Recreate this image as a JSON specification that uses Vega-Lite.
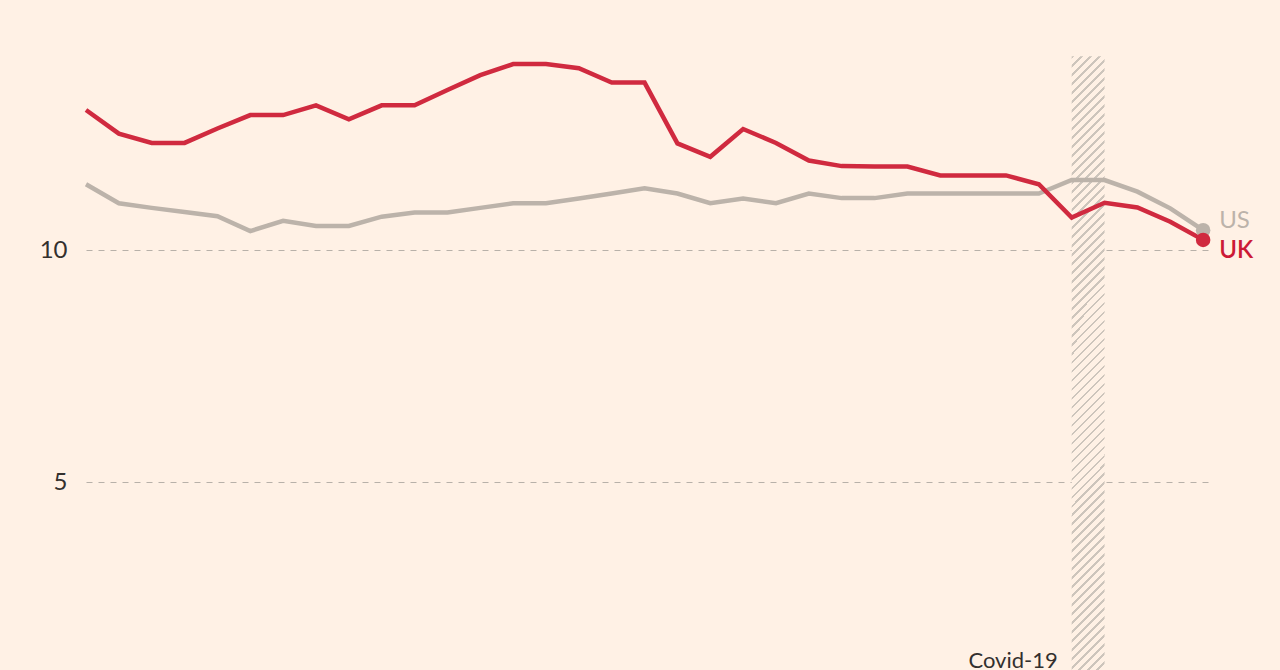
{
  "$schema": "https://vega.github.io/schema/vega-lite/v6.json",
  "width": 1126,
  "height": 670,
  "autosize": {"type": "none"},
  "padding": {"left": 86, "top": 0, "right": 68, "bottom": 0},
  "background": "#fff1e5",
  "config": {
    "view": {"stroke": null},
    "font": "Lato"
  },
  "datasets": {
    "series": [
      {"year": 1990, "country": "UK", "value": 13.02}, {"year": 1990, "country": "US", "value": 11.42},
      {"year": 1991, "country": "UK", "value": 12.51}, {"year": 1991, "country": "US", "value": 11.01},
      {"year": 1992, "country": "UK", "value": 12.31}, {"year": 1992, "country": "US", "value": 10.91},
      {"year": 1993, "country": "UK", "value": 12.31}, {"year": 1993, "country": "US", "value": 10.82},
      {"year": 1994, "country": "UK", "value": 12.62}, {"year": 1994, "country": "US", "value": 10.73},
      {"year": 1995, "country": "UK", "value": 12.91}, {"year": 1995, "country": "US", "value": 10.41},
      {"year": 1996, "country": "UK", "value": 12.91}, {"year": 1996, "country": "US", "value": 10.63},
      {"year": 1997, "country": "UK", "value": 13.12}, {"year": 1997, "country": "US", "value": 10.52},
      {"year": 1998, "country": "UK", "value": 12.82}, {"year": 1998, "country": "US", "value": 10.52},
      {"year": 1999, "country": "UK", "value": 13.12}, {"year": 1999, "country": "US", "value": 10.72},
      {"year": 2000, "country": "UK", "value": 13.12}, {"year": 2000, "country": "US", "value": 10.81},
      {"year": 2001, "country": "UK", "value": 13.45}, {"year": 2001, "country": "US", "value": 10.81},
      {"year": 2002, "country": "UK", "value": 13.77}, {"year": 2002, "country": "US", "value": 10.91},
      {"year": 2003, "country": "UK", "value": 14.01}, {"year": 2003, "country": "US", "value": 11.01},
      {"year": 2004, "country": "UK", "value": 14.01}, {"year": 2004, "country": "US", "value": 11.01},
      {"year": 2005, "country": "UK", "value": 13.92}, {"year": 2005, "country": "US", "value": 11.11},
      {"year": 2006, "country": "UK", "value": 13.61}, {"year": 2006, "country": "US", "value": 11.22},
      {"year": 2007, "country": "UK", "value": 13.61}, {"year": 2007, "country": "US", "value": 11.33},
      {"year": 2008, "country": "UK", "value": 12.30}, {"year": 2008, "country": "US", "value": 11.22},
      {"year": 2009, "country": "UK", "value": 12.01}, {"year": 2009, "country": "US", "value": 11.01},
      {"year": 2010, "country": "UK", "value": 12.61}, {"year": 2010, "country": "US", "value": 11.11},
      {"year": 2011, "country": "UK", "value": 12.31}, {"year": 2011, "country": "US", "value": 11.01},
      {"year": 2012, "country": "UK", "value": 11.93}, {"year": 2012, "country": "US", "value": 11.22},
      {"year": 2013, "country": "UK", "value": 11.81}, {"year": 2013, "country": "US", "value": 11.12},
      {"year": 2014, "country": "UK", "value": 11.80}, {"year": 2014, "country": "US", "value": 11.12},
      {"year": 2015, "country": "UK", "value": 11.80}, {"year": 2015, "country": "US", "value": 11.22},
      {"year": 2016, "country": "UK", "value": 11.61}, {"year": 2016, "country": "US", "value": 11.22},
      {"year": 2017, "country": "UK", "value": 11.61}, {"year": 2017, "country": "US", "value": 11.22},
      {"year": 2018, "country": "UK", "value": 11.61}, {"year": 2018, "country": "US", "value": 11.22},
      {"year": 2019, "country": "UK", "value": 11.42}, {"year": 2019, "country": "US", "value": 11.22},
      {"year": 2020, "country": "UK", "value": 10.70}, {"year": 2020, "country": "US", "value": 11.51},
      {"year": 2021, "country": "UK", "value": 11.02}, {"year": 2021, "country": "US", "value": 11.51},
      {"year": 2022, "country": "UK", "value": 10.92}, {"year": 2022, "country": "US", "value": 11.26},
      {"year": 2023, "country": "UK", "value": 10.61}, {"year": 2023, "country": "US", "value": 10.90},
      {"year": 2024, "country": "UK", "value": 10.22}, {"year": 2024, "country": "US", "value": 10.43}
    ],
    "covid": [
      {"start": 2020, "end": 2021, "top": 14.18, "bottom": 0.95, "label": "Covid-19"}
    ]
  },
  "layer": [
    {
      "data": {"name": "covid"},
      "mark": {
        "type": "rect",
        "fill": {
          "gradient": "linear",
          "x1": 0, "y1": 0, "x2": 0.0564, "y2": 1.0507,
          "stops": [
            {"offset": 0, "color": "#cdc5bc"}, {"offset": 0.0042, "color": "#cdc5bc"}, {"offset": 0.0042, "color": "#fff1e5"}, {"offset": 0.0139, "color": "#fff1e5"},
            {"offset": 0.0139, "color": "#cdc5bc"}, {"offset": 0.0181, "color": "#cdc5bc"}, {"offset": 0.0181, "color": "#fff1e5"}, {"offset": 0.0278, "color": "#fff1e5"},
            {"offset": 0.0278, "color": "#cdc5bc"}, {"offset": 0.0319, "color": "#cdc5bc"}, {"offset": 0.0319, "color": "#fff1e5"}, {"offset": 0.0417, "color": "#fff1e5"},
            {"offset": 0.0417, "color": "#cdc5bc"}, {"offset": 0.0458, "color": "#cdc5bc"}, {"offset": 0.0458, "color": "#fff1e5"}, {"offset": 0.0556, "color": "#fff1e5"},
            {"offset": 0.0556, "color": "#cdc5bc"}, {"offset": 0.0597, "color": "#cdc5bc"}, {"offset": 0.0597, "color": "#fff1e5"}, {"offset": 0.0694, "color": "#fff1e5"},
            {"offset": 0.0694, "color": "#cdc5bc"}, {"offset": 0.0736, "color": "#cdc5bc"}, {"offset": 0.0736, "color": "#fff1e5"}, {"offset": 0.0833, "color": "#fff1e5"},
            {"offset": 0.0833, "color": "#cdc5bc"}, {"offset": 0.0875, "color": "#cdc5bc"}, {"offset": 0.0875, "color": "#fff1e5"}, {"offset": 0.0972, "color": "#fff1e5"},
            {"offset": 0.0972, "color": "#cdc5bc"}, {"offset": 0.1014, "color": "#cdc5bc"}, {"offset": 0.1014, "color": "#fff1e5"}, {"offset": 0.1111, "color": "#fff1e5"},
            {"offset": 0.1111, "color": "#cdc5bc"}, {"offset": 0.1153, "color": "#cdc5bc"}, {"offset": 0.1153, "color": "#fff1e5"}, {"offset": 0.125, "color": "#fff1e5"},
            {"offset": 0.125, "color": "#cdc5bc"}, {"offset": 0.1292, "color": "#cdc5bc"}, {"offset": 0.1292, "color": "#fff1e5"}, {"offset": 0.1389, "color": "#fff1e5"},
            {"offset": 0.1389, "color": "#cdc5bc"}, {"offset": 0.1431, "color": "#cdc5bc"}, {"offset": 0.1431, "color": "#fff1e5"}, {"offset": 0.1528, "color": "#fff1e5"},
            {"offset": 0.1528, "color": "#cdc5bc"}, {"offset": 0.1569, "color": "#cdc5bc"}, {"offset": 0.1569, "color": "#fff1e5"}, {"offset": 0.1667, "color": "#fff1e5"},
            {"offset": 0.1667, "color": "#cdc5bc"}, {"offset": 0.1708, "color": "#cdc5bc"}, {"offset": 0.1708, "color": "#fff1e5"}, {"offset": 0.1806, "color": "#fff1e5"},
            {"offset": 0.1806, "color": "#cdc5bc"}, {"offset": 0.1847, "color": "#cdc5bc"}, {"offset": 0.1847, "color": "#fff1e5"}, {"offset": 0.1944, "color": "#fff1e5"},
            {"offset": 0.1944, "color": "#cdc5bc"}, {"offset": 0.1986, "color": "#cdc5bc"}, {"offset": 0.1986, "color": "#fff1e5"}, {"offset": 0.2083, "color": "#fff1e5"},
            {"offset": 0.2083, "color": "#cdc5bc"}, {"offset": 0.2125, "color": "#cdc5bc"}, {"offset": 0.2125, "color": "#fff1e5"}, {"offset": 0.2222, "color": "#fff1e5"},
            {"offset": 0.2222, "color": "#cdc5bc"}, {"offset": 0.2264, "color": "#cdc5bc"}, {"offset": 0.2264, "color": "#fff1e5"}, {"offset": 0.2361, "color": "#fff1e5"},
            {"offset": 0.2361, "color": "#cdc5bc"}, {"offset": 0.2403, "color": "#cdc5bc"}, {"offset": 0.2403, "color": "#fff1e5"}, {"offset": 0.25, "color": "#fff1e5"},
            {"offset": 0.25, "color": "#cdc5bc"}, {"offset": 0.2542, "color": "#cdc5bc"}, {"offset": 0.2542, "color": "#fff1e5"}, {"offset": 0.2639, "color": "#fff1e5"},
            {"offset": 0.2639, "color": "#cdc5bc"}, {"offset": 0.2681, "color": "#cdc5bc"}, {"offset": 0.2681, "color": "#fff1e5"}, {"offset": 0.2778, "color": "#fff1e5"},
            {"offset": 0.2778, "color": "#cdc5bc"}, {"offset": 0.2819, "color": "#cdc5bc"}, {"offset": 0.2819, "color": "#fff1e5"}, {"offset": 0.2917, "color": "#fff1e5"},
            {"offset": 0.2917, "color": "#cdc5bc"}, {"offset": 0.2958, "color": "#cdc5bc"}, {"offset": 0.2958, "color": "#fff1e5"}, {"offset": 0.3056, "color": "#fff1e5"},
            {"offset": 0.3056, "color": "#cdc5bc"}, {"offset": 0.3097, "color": "#cdc5bc"}, {"offset": 0.3097, "color": "#fff1e5"}, {"offset": 0.3194, "color": "#fff1e5"},
            {"offset": 0.3194, "color": "#cdc5bc"}, {"offset": 0.3236, "color": "#cdc5bc"}, {"offset": 0.3236, "color": "#fff1e5"}, {"offset": 0.3333, "color": "#fff1e5"},
            {"offset": 0.3333, "color": "#cdc5bc"}, {"offset": 0.3375, "color": "#cdc5bc"}, {"offset": 0.3375, "color": "#fff1e5"}, {"offset": 0.3472, "color": "#fff1e5"},
            {"offset": 0.3472, "color": "#cdc5bc"}, {"offset": 0.3514, "color": "#cdc5bc"}, {"offset": 0.3514, "color": "#fff1e5"}, {"offset": 0.3611, "color": "#fff1e5"},
            {"offset": 0.3611, "color": "#cdc5bc"}, {"offset": 0.3653, "color": "#cdc5bc"}, {"offset": 0.3653, "color": "#fff1e5"}, {"offset": 0.375, "color": "#fff1e5"},
            {"offset": 0.375, "color": "#cdc5bc"}, {"offset": 0.3792, "color": "#cdc5bc"}, {"offset": 0.3792, "color": "#fff1e5"}, {"offset": 0.3889, "color": "#fff1e5"},
            {"offset": 0.3889, "color": "#cdc5bc"}, {"offset": 0.3931, "color": "#cdc5bc"}, {"offset": 0.3931, "color": "#fff1e5"}, {"offset": 0.4028, "color": "#fff1e5"},
            {"offset": 0.4028, "color": "#cdc5bc"}, {"offset": 0.4069, "color": "#cdc5bc"}, {"offset": 0.4069, "color": "#fff1e5"}, {"offset": 0.4167, "color": "#fff1e5"},
            {"offset": 0.4167, "color": "#cdc5bc"}, {"offset": 0.4208, "color": "#cdc5bc"}, {"offset": 0.4208, "color": "#fff1e5"}, {"offset": 0.4306, "color": "#fff1e5"},
            {"offset": 0.4306, "color": "#cdc5bc"}, {"offset": 0.4347, "color": "#cdc5bc"}, {"offset": 0.4347, "color": "#fff1e5"}, {"offset": 0.4444, "color": "#fff1e5"},
            {"offset": 0.4444, "color": "#cdc5bc"}, {"offset": 0.4486, "color": "#cdc5bc"}, {"offset": 0.4486, "color": "#fff1e5"}, {"offset": 0.4583, "color": "#fff1e5"},
            {"offset": 0.4583, "color": "#cdc5bc"}, {"offset": 0.4625, "color": "#cdc5bc"}, {"offset": 0.4625, "color": "#fff1e5"}, {"offset": 0.4722, "color": "#fff1e5"},
            {"offset": 0.4722, "color": "#cdc5bc"}, {"offset": 0.4764, "color": "#cdc5bc"}, {"offset": 0.4764, "color": "#fff1e5"}, {"offset": 0.4861, "color": "#fff1e5"},
            {"offset": 0.4861, "color": "#cdc5bc"}, {"offset": 0.4903, "color": "#cdc5bc"}, {"offset": 0.4903, "color": "#fff1e5"}, {"offset": 0.5, "color": "#fff1e5"},
            {"offset": 0.5, "color": "#cdc5bc"}, {"offset": 0.5042, "color": "#cdc5bc"}, {"offset": 0.5042, "color": "#fff1e5"}, {"offset": 0.5139, "color": "#fff1e5"},
            {"offset": 0.5139, "color": "#cdc5bc"}, {"offset": 0.5181, "color": "#cdc5bc"}, {"offset": 0.5181, "color": "#fff1e5"}, {"offset": 0.5278, "color": "#fff1e5"},
            {"offset": 0.5278, "color": "#cdc5bc"}, {"offset": 0.5319, "color": "#cdc5bc"}, {"offset": 0.5319, "color": "#fff1e5"}, {"offset": 0.5417, "color": "#fff1e5"},
            {"offset": 0.5417, "color": "#cdc5bc"}, {"offset": 0.5458, "color": "#cdc5bc"}, {"offset": 0.5458, "color": "#fff1e5"}, {"offset": 0.5556, "color": "#fff1e5"},
            {"offset": 0.5556, "color": "#cdc5bc"}, {"offset": 0.5597, "color": "#cdc5bc"}, {"offset": 0.5597, "color": "#fff1e5"}, {"offset": 0.5694, "color": "#fff1e5"},
            {"offset": 0.5694, "color": "#cdc5bc"}, {"offset": 0.5736, "color": "#cdc5bc"}, {"offset": 0.5736, "color": "#fff1e5"}, {"offset": 0.5833, "color": "#fff1e5"},
            {"offset": 0.5833, "color": "#cdc5bc"}, {"offset": 0.5875, "color": "#cdc5bc"}, {"offset": 0.5875, "color": "#fff1e5"}, {"offset": 0.5972, "color": "#fff1e5"},
            {"offset": 0.5972, "color": "#cdc5bc"}, {"offset": 0.6014, "color": "#cdc5bc"}, {"offset": 0.6014, "color": "#fff1e5"}, {"offset": 0.6111, "color": "#fff1e5"},
            {"offset": 0.6111, "color": "#cdc5bc"}, {"offset": 0.6153, "color": "#cdc5bc"}, {"offset": 0.6153, "color": "#fff1e5"}, {"offset": 0.625, "color": "#fff1e5"},
            {"offset": 0.625, "color": "#cdc5bc"}, {"offset": 0.6292, "color": "#cdc5bc"}, {"offset": 0.6292, "color": "#fff1e5"}, {"offset": 0.6389, "color": "#fff1e5"},
            {"offset": 0.6389, "color": "#cdc5bc"}, {"offset": 0.6431, "color": "#cdc5bc"}, {"offset": 0.6431, "color": "#fff1e5"}, {"offset": 0.6528, "color": "#fff1e5"},
            {"offset": 0.6528, "color": "#cdc5bc"}, {"offset": 0.6569, "color": "#cdc5bc"}, {"offset": 0.6569, "color": "#fff1e5"}, {"offset": 0.6667, "color": "#fff1e5"},
            {"offset": 0.6667, "color": "#cdc5bc"}, {"offset": 0.6708, "color": "#cdc5bc"}, {"offset": 0.6708, "color": "#fff1e5"}, {"offset": 0.6806, "color": "#fff1e5"},
            {"offset": 0.6806, "color": "#cdc5bc"}, {"offset": 0.6847, "color": "#cdc5bc"}, {"offset": 0.6847, "color": "#fff1e5"}, {"offset": 0.6944, "color": "#fff1e5"},
            {"offset": 0.6944, "color": "#cdc5bc"}, {"offset": 0.6986, "color": "#cdc5bc"}, {"offset": 0.6986, "color": "#fff1e5"}, {"offset": 0.7083, "color": "#fff1e5"},
            {"offset": 0.7083, "color": "#cdc5bc"}, {"offset": 0.7125, "color": "#cdc5bc"}, {"offset": 0.7125, "color": "#fff1e5"}, {"offset": 0.7222, "color": "#fff1e5"},
            {"offset": 0.7222, "color": "#cdc5bc"}, {"offset": 0.7264, "color": "#cdc5bc"}, {"offset": 0.7264, "color": "#fff1e5"}, {"offset": 0.7361, "color": "#fff1e5"},
            {"offset": 0.7361, "color": "#cdc5bc"}, {"offset": 0.7403, "color": "#cdc5bc"}, {"offset": 0.7403, "color": "#fff1e5"}, {"offset": 0.75, "color": "#fff1e5"},
            {"offset": 0.75, "color": "#cdc5bc"}, {"offset": 0.7542, "color": "#cdc5bc"}, {"offset": 0.7542, "color": "#fff1e5"}, {"offset": 0.7639, "color": "#fff1e5"},
            {"offset": 0.7639, "color": "#cdc5bc"}, {"offset": 0.7681, "color": "#cdc5bc"}, {"offset": 0.7681, "color": "#fff1e5"}, {"offset": 0.7778, "color": "#fff1e5"},
            {"offset": 0.7778, "color": "#cdc5bc"}, {"offset": 0.7819, "color": "#cdc5bc"}, {"offset": 0.7819, "color": "#fff1e5"}, {"offset": 0.7917, "color": "#fff1e5"},
            {"offset": 0.7917, "color": "#cdc5bc"}, {"offset": 0.7958, "color": "#cdc5bc"}, {"offset": 0.7958, "color": "#fff1e5"}, {"offset": 0.8056, "color": "#fff1e5"},
            {"offset": 0.8056, "color": "#cdc5bc"}, {"offset": 0.8097, "color": "#cdc5bc"}, {"offset": 0.8097, "color": "#fff1e5"}, {"offset": 0.8194, "color": "#fff1e5"},
            {"offset": 0.8194, "color": "#cdc5bc"}, {"offset": 0.8236, "color": "#cdc5bc"}, {"offset": 0.8236, "color": "#fff1e5"}, {"offset": 0.8333, "color": "#fff1e5"},
            {"offset": 0.8333, "color": "#cdc5bc"}, {"offset": 0.8375, "color": "#cdc5bc"}, {"offset": 0.8375, "color": "#fff1e5"}, {"offset": 0.8472, "color": "#fff1e5"},
            {"offset": 0.8472, "color": "#cdc5bc"}, {"offset": 0.8514, "color": "#cdc5bc"}, {"offset": 0.8514, "color": "#fff1e5"}, {"offset": 0.8611, "color": "#fff1e5"},
            {"offset": 0.8611, "color": "#cdc5bc"}, {"offset": 0.8653, "color": "#cdc5bc"}, {"offset": 0.8653, "color": "#fff1e5"}, {"offset": 0.875, "color": "#fff1e5"},
            {"offset": 0.875, "color": "#cdc5bc"}, {"offset": 0.8792, "color": "#cdc5bc"}, {"offset": 0.8792, "color": "#fff1e5"}, {"offset": 0.8889, "color": "#fff1e5"},
            {"offset": 0.8889, "color": "#cdc5bc"}, {"offset": 0.8931, "color": "#cdc5bc"}, {"offset": 0.8931, "color": "#fff1e5"}, {"offset": 0.9028, "color": "#fff1e5"},
            {"offset": 0.9028, "color": "#cdc5bc"}, {"offset": 0.9069, "color": "#cdc5bc"}, {"offset": 0.9069, "color": "#fff1e5"}, {"offset": 0.9167, "color": "#fff1e5"},
            {"offset": 0.9167, "color": "#cdc5bc"}, {"offset": 0.9208, "color": "#cdc5bc"}, {"offset": 0.9208, "color": "#fff1e5"}, {"offset": 0.9306, "color": "#fff1e5"},
            {"offset": 0.9306, "color": "#cdc5bc"}, {"offset": 0.9347, "color": "#cdc5bc"}, {"offset": 0.9347, "color": "#fff1e5"}, {"offset": 0.9444, "color": "#fff1e5"},
            {"offset": 0.9444, "color": "#cdc5bc"}, {"offset": 0.9486, "color": "#cdc5bc"}, {"offset": 0.9486, "color": "#fff1e5"}, {"offset": 0.9583, "color": "#fff1e5"},
            {"offset": 0.9583, "color": "#cdc5bc"}, {"offset": 0.9625, "color": "#cdc5bc"}, {"offset": 0.9625, "color": "#fff1e5"}, {"offset": 0.9722, "color": "#fff1e5"},
            {"offset": 0.9722, "color": "#cdc5bc"}, {"offset": 0.9764, "color": "#cdc5bc"}, {"offset": 0.9764, "color": "#fff1e5"}, {"offset": 0.9861, "color": "#fff1e5"},
            {"offset": 0.9861, "color": "#cdc5bc"}, {"offset": 0.9903, "color": "#cdc5bc"}, {"offset": 0.9903, "color": "#fff1e5"}, {"offset": 1, "color": "#fff1e5"}
          ]
        }
      },
      "encoding": {
        "x": {"field": "start", "type": "quantitative", "scale": {"domain": [1990, 2024.27], "nice": false, "zero": false}, "axis": null},
        "x2": {"field": "end"},
        "y": {"field": "top", "type": "quantitative", "scale": {"domain": [0.95, 15.39], "nice": false, "zero": false},
          "axis": {"values": [5, 10], "domain": false, "ticks": false, "grid": true, "gridDash": [6, 6], "gridColor": "#b8b1a9", "gridWidth": 1, "labelFontSize": 24, "labelColor": "#33302e", "labelFont": "Lato", "labelPadding": 19, "title": null}},
        "y2": {"field": "bottom"}
      }
    },
    {
      "data": {"name": "covid"},
      "mark": {"type": "text", "align": "right", "baseline": "alphabetic", "dx": -14, "dy": -2, "fontSize": 22, "font": "Lato", "color": "#33302e"},
      "encoding": {
        "x": {"field": "start", "type": "quantitative"},
        "y": {"field": "bottom", "type": "quantitative"},
        "text": {"field": "label"}
      }
    },
    {
      "data": {"name": "series"},
      "transform": [{"filter": "datum.country === 'US'"}],
      "mark": {"type": "line", "strokeWidth": 4.5, "color": "#bcb3aa"},
      "encoding": {
        "x": {"field": "year", "type": "quantitative"},
        "y": {"field": "value", "type": "quantitative"}
      }
    },
    {
      "data": {"name": "series"},
      "transform": [{"filter": "datum.country === 'UK'"}],
      "mark": {"type": "line", "strokeWidth": 4.5, "color": "#d02a3f"},
      "encoding": {
        "x": {"field": "year", "type": "quantitative"},
        "y": {"field": "value", "type": "quantitative"}
      }
    },
    {
      "data": {"name": "series"},
      "transform": [{"filter": "datum.country === 'US' && datum.year === 2024"}],
      "mark": {"type": "circle", "size": 210, "opacity": 1, "color": "#bcb3aa"},
      "encoding": {
        "x": {"field": "year", "type": "quantitative"},
        "y": {"field": "value", "type": "quantitative"}
      }
    },
    {
      "data": {"name": "series"},
      "transform": [{"filter": "datum.country === 'UK' && datum.year === 2024"}],
      "mark": {"type": "circle", "size": 210, "opacity": 1, "color": "#d02a3f"},
      "encoding": {
        "x": {"field": "year", "type": "quantitative"},
        "y": {"field": "value", "type": "quantitative"}
      }
    },
    {
      "data": {"name": "series"},
      "transform": [{"filter": "datum.country === 'US' && datum.year === 2024"}],
      "mark": {"type": "text", "align": "left", "baseline": "middle", "dx": 16, "dy": -9, "fontSize": 24, "font": "Lato", "color": "#bcb3aa"},
      "encoding": {
        "x": {"field": "year", "type": "quantitative"},
        "y": {"field": "value", "type": "quantitative"},
        "text": {"field": "country"}
      }
    },
    {
      "data": {"name": "series"},
      "transform": [{"filter": "datum.country === 'UK' && datum.year === 2024"}],
      "mark": {"type": "text", "align": "left", "baseline": "middle", "dx": 16, "dy": 11, "fontSize": 24, "font": "Lato", "fontWeight": 600, "color": "#cc1a36"},
      "encoding": {
        "x": {"field": "year", "type": "quantitative"},
        "y": {"field": "value", "type": "quantitative"},
        "text": {"field": "country"}
      }
    }
  ]
}
